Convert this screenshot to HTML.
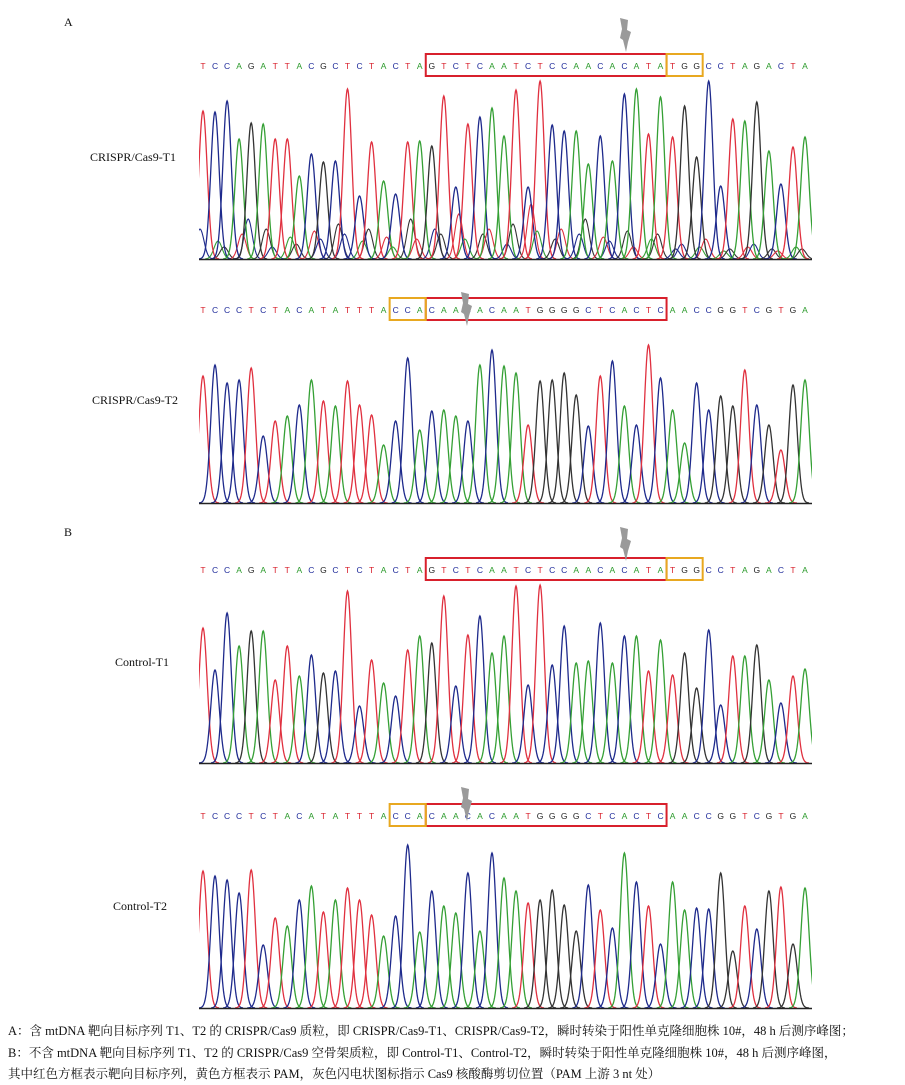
<!DOCTYPE html>
<html><head><meta charset="utf-8">
<style>
html,body{margin:0;padding:0;background:#fff;}
body{width:905px;height:1085px;position:relative;overflow:hidden;}
.lbl{position:absolute;font-family:"Liberation Serif",serif;font-size:12px;color:#111;}
.cap{position:absolute;left:8px;font-family:"Liberation Serif","Noto Serif CJK SC",serif;font-size:12.5px;color:#111;white-space:nowrap;}
svg{position:absolute;left:0;top:0;}
</style></head>
<body>
<div class="lbl" style="left:64px;top:15px;">A</div>
<div class="lbl" style="left:90px;top:150px;">CRISPR/Cas9-T1</div>
<div class="lbl" style="left:92px;top:393px;">CRISPR/Cas9-T2</div>
<div class="lbl" style="left:64px;top:525px;">B</div>
<div class="lbl" style="left:115px;top:655px;">Control-T1</div>
<div class="lbl" style="left:113px;top:899px;">Control-T2</div>
<div class="cap" style="top:1021px;">A：含 mtDNA 靶向目标序列 T1、T2 的 CRISPR/Cas9 质粒，即 CRISPR/Cas9-T1、CRISPR/Cas9-T2，瞬时转染于阳性单克隆细胞株 10#，48 h 后测序峰图；</div>
<div class="cap" style="top:1043px;">B：不含 mtDNA 靶向目标序列 T1、T2 的 CRISPR/Cas9 空骨架质粒，即 Control-T1、Control-T2，瞬时转染于阳性单克隆细胞株 10#，48 h 后测序峰图，</div>
<div class="cap" style="top:1064px;">其中红色方框表示靶向目标序列，黄色方框表示 PAM，灰色闪电状图标指示 Cas9 核酸酶剪切位置（PAM 上游 3 nt 处）</div>
<svg id="chart" width="905" height="1085">
<defs><clipPath id="trace-clip"><rect x="199" y="0" width="613" height="1085"/></clipPath></defs>
</svg>
<script>
const seqT1 = "TCCAGATTACGCTCTACTAGTCTCAATCTCCAACACATATGGCCTAGACTA";
const seqT2 = "TCCCTCTACATATTTACCACAACACAATGGGGCTCACTCAACCGGTCGTGA";
const heightsCrisprT1 = [148,147,158,120,136,135,120,120,83,105,97,98,170,63,117,78,65,117,118,113,163,72,135,142,151,123,169,72,178,134,128,128,95,123,98,165,170,125,162,122,153,102,178,73,140,138,157,108,75,112,122];
const heightsCrisprT2 = [127,138,120,123,135,67,82,87,98,123,102,97,122,98,88,58,82,145,73,92,93,87,82,138,153,137,130,78,122,123,130,108,77,127,142,97,78,158,125,93,60,120,93,107,97,133,98,78,53,118,123];
const heightsControlT1 = [135,93,150,117,132,132,83,117,87,108,90,92,172,57,103,80,67,113,127,120,167,77,128,147,110,127,177,78,178,98,137,100,102,140,100,127,127,92,123,88,110,75,133,58,107,107,118,83,60,87,94];
const heightsControlT2 = [137,132,128,115,138,63,90,82,108,122,96,108,120,108,93,72,92,163,76,117,102,95,135,77,155,130,117,105,108,118,103,77,123,98,80,155,126,102,64,126,98,100,99,135,57,102,79,117,121,64,120];
const noiseT1 = [30,18,12,25,40,30,12,22,15,28,20,35,25,18,30,22,12,40,20,30,25,45,20,25,30,15,35,55,28,20,30,25,40,22,18,28,12,20,25,10,15,12,20,8,10,12,15,10,8,12,10];

const svg = document.getElementById('chart');
const NS = 'http://www.w3.org/2000/svg';
const X0 = 203, DX = 12.04;
const baseColor = {T:'#e0303f',C:'#1e2a8c',A:'#35a035',G:'#333333'};
const textColor = {T:'#d8202c',C:'#1e2a9a',A:'#2a9a2a',G:'#222222'};
function xOf(i){return X0 + DX*i;}
function mk(tag, attrs){const e=document.createElementNS(NS,tag);for(const k in attrs)e.setAttribute(k,attrs[k]);svg.appendChild(e);return e;}

function panel(id, seq, heights, noise, letterY, baseY, red, yel, boltX, boltY){
  for(let i=0;i<seq.length;i++){
    const t = mk('text',{x:xOf(i),y:letterY,'text-anchor':'middle','font-family':'Liberation Sans, sans-serif','font-size':'8.5',fill:textColor[seq[i]]});
    
    
    t.textContent = seq[i];
  }
  const r = mk('rect',{x:xOf(red[0])-6,y:letterY-15,width:DX*(red[1]-red[0]+1),height:22,fill:'none',stroke:'#d8202c','stroke-width':'2'});
  
  
  const y = mk('rect',{x:xOf(yel[0])-6,y:letterY-15,width:DX*(yel[1]-yel[0]+1),height:22,fill:'none',stroke:'#e8a820','stroke-width':'2'});
  
  
  const b = mk('polygon',{points:[[boltX-5,boltY],[boltX+3,boltY+2],[boltX+2,boltY+12],[boltX+6,boltY+14],[boltX+3,boltY+24],[boltX+1,boltY+34],[boltX-2,boltY+22],[boltX-5,boltY+20],[boltX-3,boltY+11]].map(p=>p.join(',')).join(' '),fill:'#9a9a9a'});
  
  
  const g = mk('g',{'clip-path':'url(#trace-clip)'});
  
  
  function addPath(d, col, w, name){
    const p=document.createElementNS(NS,'path');
    p.setAttribute('d',d);p.setAttribute('fill','none');p.setAttribute('stroke',col);p.setAttribute('stroke-width',w);
    
    
    g.appendChild(p);
  }
  if(noise){
    for(let i=0;i<seq.length;i++){
      const cols=['T','C','A','G'].filter(c=>c!==seq[i]);
      const c = cols[i%3];
      const cx = xOf(i)+ (i%2?3:-3), h = noise[i], s=4;
      let d='';
      for(let dx=-13;dx<=13;dx+=1){const yy=baseY-h*Math.exp(-dx*dx/(2*s*s));d+=(dx===-13?'M':'L')+(cx+dx).toFixed(1)+','+yy.toFixed(1);}
      addPath(d, baseColor[c], '1.1', id+'-secondary-peak');
    }
  }
  for(let i=0;i<seq.length;i++){
    const cx = xOf(i), h = heights[i], s=4.2;
    let d='';
    for(let dx=-16;dx<=16;dx+=0.5){const yy=baseY-h*Math.exp(-dx*dx/(2*s*s));d+=(dx===-16?'M':'L')+(cx+dx).toFixed(1)+','+yy.toFixed(1);}
    addPath(d, baseColor[seq[i]], '1.3', id+'-peak');
  }
  const l = mk('line',{x1:199,x2:812,y1:baseY+0.5,y2:baseY+0.5,stroke:'#222','stroke-width':'1.5'});
  
  
}
panel('crispr-t1', seqT1, heightsCrisprT1, noiseT1, 69, 259, [19,38], [39,41], 625, 18);
panel('crispr-t2', seqT2, heightsCrisprT2, null, 313, 503, [19,38], [16,18], 466, 292);
panel('control-t1', seqT1, heightsControlT1, null, 573, 763, [19,38], [39,41], 625, 527);
panel('control-t2', seqT2, heightsControlT2, null, 819, 1008, [19,38], [16,18], 466, 787);
</script>
</body></html>
